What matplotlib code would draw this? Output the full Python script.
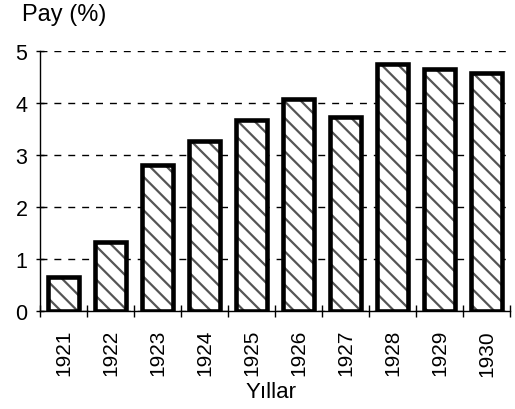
import matplotlib.pyplot as plt
import numpy as np

plt.rcParams['font.family'] = ['Liberation Sans', 'DejaVu Sans']
plt.rcParams['hatch.linewidth'] = 1.6

years = ['1921', '1922', '1923', '1924', '1925', '1926', '1927', '1928', '1929', '1930']
pay = [0.65, 1.33, 2.80, 3.27, 3.68, 4.08, 3.73, 4.75, 4.65, 4.57]

fig = plt.figure(figsize=(5.15, 4.1), dpi=100)
ax = fig.add_axes([40/515, 98/410, 470/515, 260/410])

x = np.arange(len(years))
# hatch first (gray), then thick black outline on top
ax.bar(x, pay, width=0.67, color='white', edgecolor='#555555', hatch='\\\\',
       linewidth=0, zorder=2)
ax.bar(x, pay, width=0.67, fill=False, edgecolor='black', linewidth=3.3, zorder=3)

ax.set_xlim(-0.5, len(years) - 0.5)
ax.set_ylim(0, 5)
ax.set_yticks([0, 1, 2, 3, 4, 5])
ax.set_xticks(x)
ax.set_xticklabels(years, rotation=90)
ax.set_xticks(np.arange(-0.5, len(years)), minor=True)

ax.tick_params(axis='y', direction='inout', length=6, width=1, labelsize=15.5, pad=6)
ax.tick_params(axis='x', which='major', length=0, labelsize=15, pad=13)
ax.tick_params(axis='x', which='minor', direction='inout', length=9, width=1)

ax.yaxis.grid(True, color='black', linestyle=(0, (5, 5)), linewidth=1)
ax.set_axisbelow(True)

for s in ['top', 'right']:
    ax.spines[s].set_visible(False)
ax.spines['left'].set_linewidth(1)
ax.spines['bottom'].set_linewidth(1)

fig.text(271/515, 1 - 393/410, 'Yıllar', fontsize=16, va='center', ha='center')
fig.text(22/515, 1 - 15/410, 'Pay (%)', fontsize=17, va='center', ha='left')

fig.savefig('out.png', dpi=100)
